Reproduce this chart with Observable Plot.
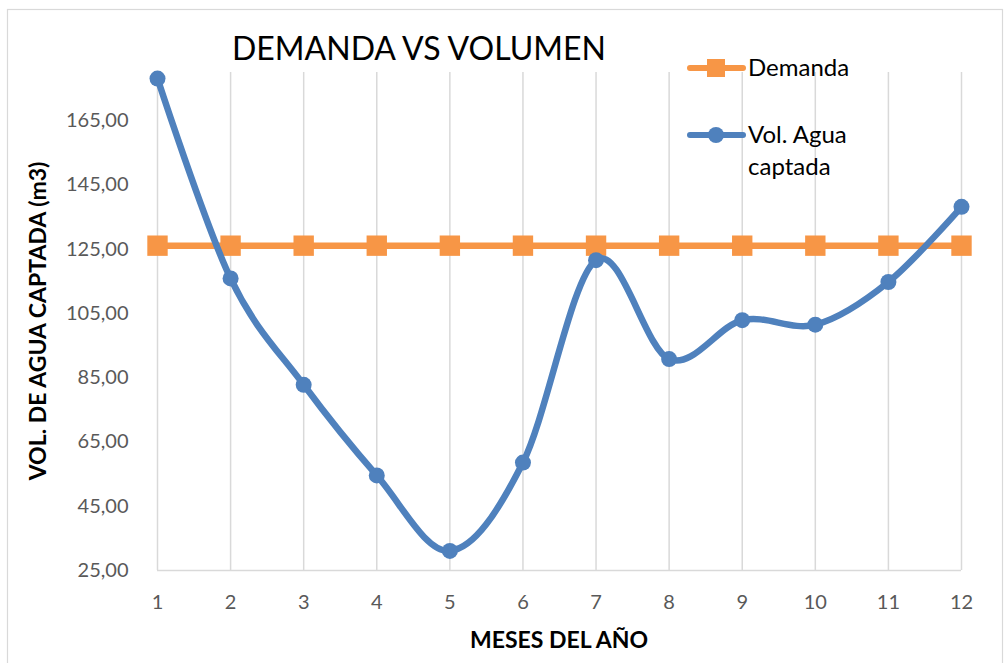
<!DOCTYPE html>
<html>
<head>
<meta charset="utf-8">
<script src="https://cdn.jsdelivr.net/npm/d3@7"></script>
<script src="https://cdn.jsdelivr.net/npm/@observablehq/plot@0.6"></script>
<style>
  html, body { margin: 0; padding: 0; background: #fff; }
  #chart { width: 1004px; height: 663px; overflow: hidden; }
</style>
</head>
<body>
<div id="chart"></div>
<script>
const months = [1, 2, 3, 4, 5, 6, 7, 8, 9, 10, 11, 12];
const demanda = [126.1, 126.1, 126.1, 126.1, 126.1, 126.1, 126.1, 126.1, 126.1, 126.1, 126.1, 126.1];
const volAgua = [178.1, 115.9, 82.8, 54.6, 31.1, 58.6, 121.6, 90.8, 102.9, 101.5, 114.8, 138.2];
const yTicks = [25, 45, 65, 85, 105, 125, 145, 165];
const titleText = "DEMANDA VS VOLUMEN";
const xTitle = "MESES DEL AÑO";
const yTitle = "VOL. DE AGUA CAPTADA (m3)";
const seriesNames = ["Demanda", "Vol. Agua", "captada"];

const demRows = months.map((m, i) => ({ m, v: demanda[i] }));
const volRows = months.map((m, i) => ({ m, v: volAgua[i] }));

const ORANGE = "#F79646";
const BLUE = "#4F81BD";
const GRID = "#d9d9d9";

const svg = Plot.plot({
  width: 1004,
  height: 663,
  marginLeft: 157,
  marginRight: 43,
  marginTop: 72,
  marginBottom: 93,
  style: { fontFamily: "Lato", fontSize: "20px", color: "#595959", background: "#fff" },
  x: { domain: [1, 12], ticks: months, tickSize: 0, tickPadding: 24, tickFormat: d => String(d), label: null },
  y: { domain: [25, 180], ticks: yTicks, tickSize: 0, tickPadding: 29, tickFormat: d => d.toFixed(2).replace(".", ","), label: null },
  marks: [
    Plot.ruleX(months, { stroke: GRID, strokeWidth: 1.5 }),
    Plot.ruleY([25], { stroke: GRID, strokeWidth: 1.5 }),
    Plot.line(demRows, { x: "m", y: "v", stroke: ORANGE, strokeWidth: 6.5 }),
    Plot.dot(demRows, { x: "m", y: "v", symbol: "square", r: 11.5, fill: ORANGE, stroke: "none" }),
    Plot.line(volRows, { x: "m", y: "v", curve: "cardinal", tension: 0, stroke: BLUE, strokeWidth: 6.5 }),
    Plot.dot(volRows, { x: "m", y: "v", r: 8, fill: BLUE, stroke: "none" })
  ]
});

const s = d3.select(svg);
// chart border
s.insert("rect", ":first-child")
  .attr("x", 7.5).attr("y", 9.5).attr("width", 995).attr("height", 700)
  .attr("fill", "none").attr("stroke", GRID).attr("stroke-width", 1.2);

// title
s.append("text").attr("x", 419).attr("y", 60).attr("text-anchor", "middle")
  .attr("font-family", "Lato").attr("font-size", 32).attr("fill", "#000").text(titleText);

// axis titles
s.append("text").attr("x", 559).attr("y", 648).attr("text-anchor", "middle")
  .attr("font-family", "Lato").attr("font-weight", "bold").attr("font-size", 23).attr("fill", "#000").text(xTitle);
s.append("text").attr("transform", "translate(46,321) rotate(-90)").attr("text-anchor", "middle")
  .attr("font-family", "Lato").attr("font-weight", "bold").attr("font-size", 23).attr("fill", "#000").text(yTitle);

// legend
const lg = s.append("g").attr("font-family", "Lato").attr("font-size", 24).attr("fill", "#000").attr("text-anchor", "start");
lg.append("line").attr("x1", 690).attr("x2", 743).attr("y1", 68).attr("y2", 68)
  .attr("stroke", ORANGE).attr("stroke-width", 6).attr("stroke-linecap", "round");
lg.append("rect").attr("x", 707).attr("y", 59).attr("width", 18).attr("height", 18).attr("fill", ORANGE);
lg.append("text").attr("x", 748).attr("y", 76).text(seriesNames[0]);
lg.append("line").attr("x1", 690).attr("x2", 743).attr("y1", 135).attr("y2", 135)
  .attr("stroke", BLUE).attr("stroke-width", 6).attr("stroke-linecap", "round");
lg.append("circle").attr("cx", 716).attr("cy", 135).attr("r", 8).attr("fill", BLUE);
lg.append("text").attr("x", 748).attr("y", 143).text(seriesNames[1]);
lg.append("text").attr("x", 748).attr("y", 175).text(seriesNames[2]);

document.getElementById("chart").appendChild(svg);
</script>
</body>
</html>
